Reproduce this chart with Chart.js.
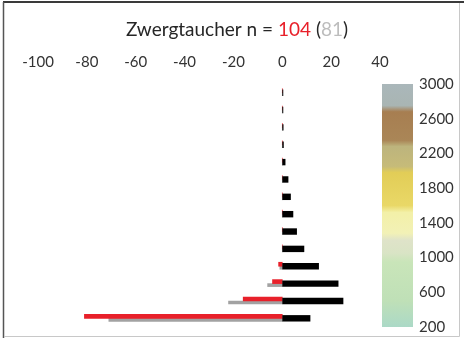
<!DOCTYPE html>
<html>
<head>
<meta charset="UTF-8">
<title>Zwergtaucher</title>
<script src="https://cdn.jsdelivr.net/npm/chart.js@4.4.1/dist/chart.umd.min.js"></script>
<style>
  body { margin: 0; background: #fff; }
  #wrap { width: 464px; height: 338px; position: relative; }
</style>
</head>
<body>
<div id="wrap"><canvas id="myChart" width="464" height="338"></canvas></div>
<script>
// hoehenstufen von oben (2800-3000) nach unten (200-400)
var bands = ['2800-3000','2600-2800','2400-2600','2200-2400','2000-2200','1800-2000','1600-1800',
             '1400-1600','1200-1400','1000-1200','800-1000','600-800','400-600','200-400'];
var blackVals = [0.4, 0.4, 0.5, 0.6, 1.3, 2.5, 3.5, 4.5, 6, 9, 15, 23, 25, 11.5];
var redVals   = [0, 0, 0, 0, 0, 0, 0, 0, 0, 0, -1.5, -4, -16, -81];
var grayVals  = [0, 0, 0, 0, 0, 0, 0, 0, 0, 0, -1, -6, -22, -71];
var xTicks = [-100, 40, 20];          // min, max, step
var elevTicks = [200, 3000, 400];     // min, max, step

// farbskala (hoehe -> farbe)
var scaleElev   = [3000, 2750, 2680, 2350, 2280, 2050, 1980, 1600, 1520, 1280, 1200, 1050, 950, 500, 200];
var scaleColors = ['#aab7ba','#a9b5b3','#a77e51','#aa8657','#bdb47d','#c6bb79','#e2cd57','#e9d867',
                   '#f3f0a8','#f2f1b6','#dfe3c9','#d9e4c5','#c9e5b9','#bfe0b7','#abd9c7'];

var titleParts = [['Zwergtaucher n = ', '#262626'], ['104', '#e8202a'], [' (', '#262626'], ['81', '#bdbdbd'], [')', '#262626']];

var fontName = 'Lato, "Open Sans", sans-serif';

var decor = {
  id: 'decor',
  beforeDraw: function(chart) {
    var c = chart.ctx;
    c.save();
    c.fillStyle = '#fff';
    c.fillRect(0, 0, chart.width, chart.height);
    // rahmen
    c.strokeStyle = '#3a3a3a'; c.lineWidth = 2;
    c.beginPath(); c.moveTo(3, 2); c.lineTo(chart.width, 2); c.stroke();
    c.lineWidth = 1.5; c.strokeStyle = '#555';
    c.beginPath(); c.moveTo(3.5, 2); c.lineTo(3.5, chart.height); c.stroke();
    c.lineWidth = 1; c.strokeStyle = '#c8c8c8';
    c.beginPath(); c.moveTo(459.5, 3); c.lineTo(459.5, 336.5); c.lineTo(4, 336.5); c.stroke();

    // farbbalken
    var ys = chart.scales.yc;
    var a = chart.chartArea;
    var top = ys.getPixelForValue(elevTicks[1]), bot = ys.getPixelForValue(elevTicks[0]);
    var g = c.createLinearGradient(0, top, 0, bot);
    for (var i = 0; i < scaleElev.length; i++) {
      var p = (ys.getPixelForValue(scaleElev[i]) - top) / (bot - top);
      g.addColorStop(Math.min(1, Math.max(0, p)), scaleColors[i]);
    }
    c.fillStyle = g;
    c.fillRect(a.right + 2, top, 31, bot - top);

    // titel
    c.font = '19px ' + fontName;
    c.textBaseline = 'middle';
    var w = 0;
    titleParts.forEach(function(t) { w += c.measureText(t[0]).width; });
    var x = chart.width / 2 + 5 - w / 2;
    titleParts.forEach(function(t) {
      c.fillStyle = t[1];
      c.fillText(t[0], x, 30);
      x += c.measureText(t[0]).width;
    });
    c.restore();
  }
};

const data = {
  labels: bands,
  datasets: [
    { label: 'n', data: blackVals, backgroundColor: '#000', grouped: false,
      categoryPercentage: 1, barPercentage: 0.37 },
    { label: 'rot', data: redVals, backgroundColor: '#e8202a', barThickness: 4 },
    { label: 'grau', data: grayVals, backgroundColor: '#a2a2a2', barThickness: 3 }
  ]
};

const config = {
  type: 'bar',
  data: data,
  options: {
    indexAxis: 'y',
    responsive: false,
    animation: false,
    layout: { padding: { top: 40, left: 38, right: 8, bottom: 11 } },
    plugins: { legend: { display: false }, title: { display: false }, tooltip: { enabled: false } },
    scales: {
      x: {
        type: 'linear', position: 'top',
        min: xTicks[0], max: xTicks[1],
        ticks: { stepSize: xTicks[2], color: '#333', padding: 13, font: { family: fontName, size: 15 } },
        grid: { display: false, drawTicks: false }, border: { display: false }
      },
      y: { display: false },
      yc: {
        type: 'linear', position: 'right', axis: 'y', offset: false,
        min: elevTicks[0], max: elevTicks[1],
        ticks: { stepSize: elevTicks[2], color: '#333', padding: 2, font: { family: fontName, size: 15 },
                 callback: function(v) { return String(v); } },
        grid: { display: true, drawOnChartArea: false, drawTicks: true, tickLength: 37, color: 'rgba(0,0,0,0)' },
        border: { display: false },
        afterFit: function(s) { s.width = 76; }
      }
    }
  },
  plugins: [decor]
};

let ctx = document.getElementById('myChart').getContext('2d');
const myChart = new Chart(ctx, config);
</script>
</body>
</html>
